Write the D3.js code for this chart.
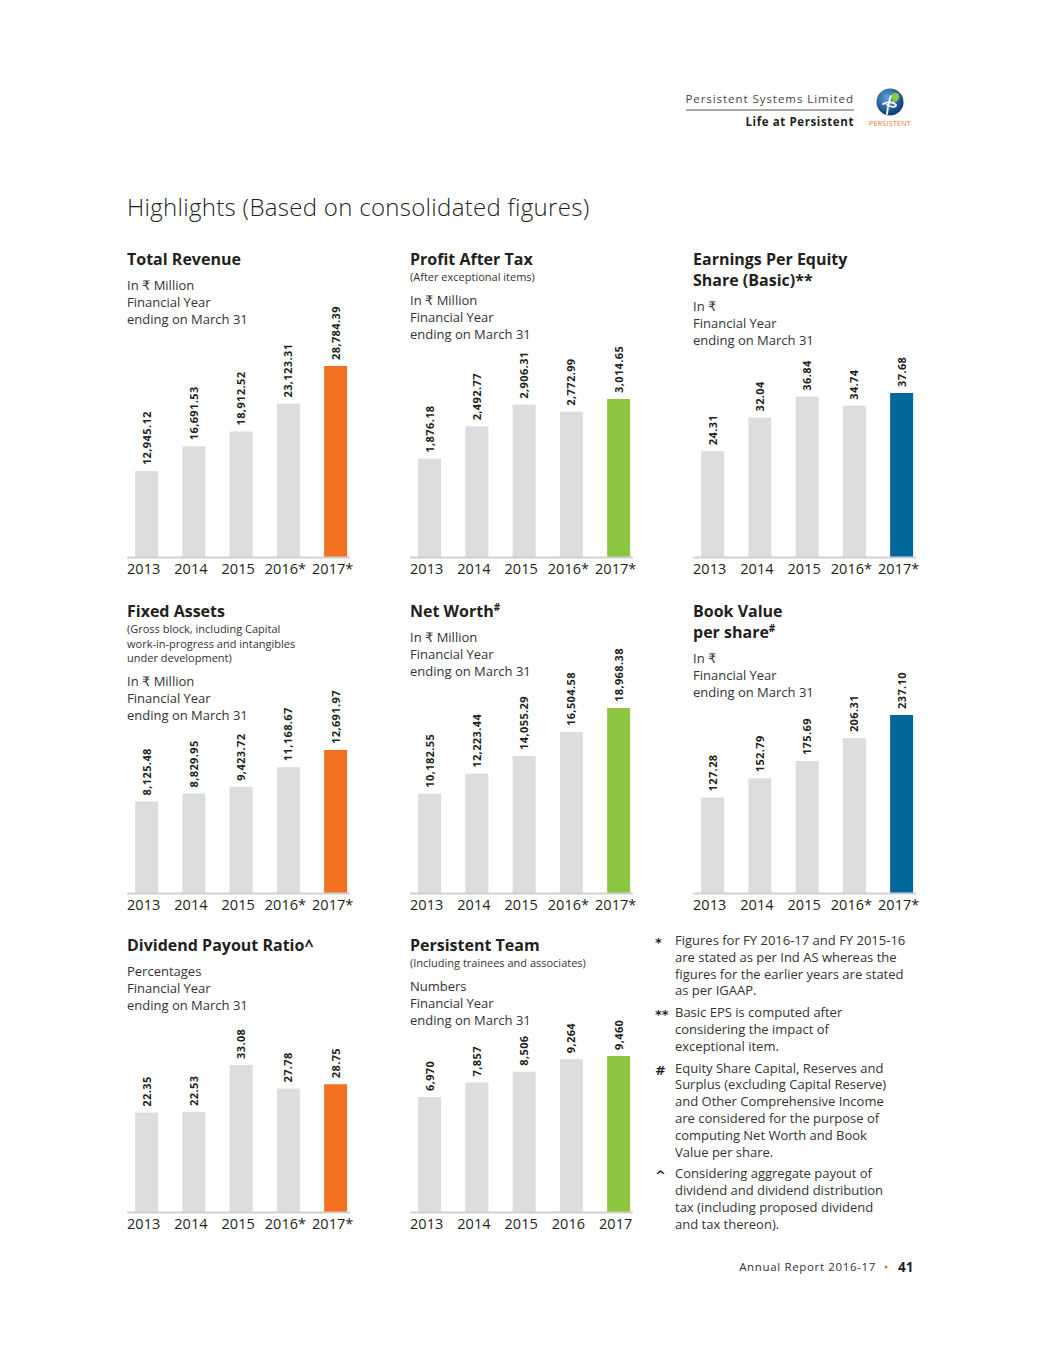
<!DOCTYPE html>
<html>
<head>
<meta charset="utf-8">
<script src="https://cdn.jsdelivr.net/npm/d3@7"></script>
<style>
  body { margin: 0; background: #fff; }
  svg text { font-family: "Open Sans", "DejaVu Sans", sans-serif; fill: #231f20; }
</style>
</head>
<body>
<div id="page"></div>
<script>
// data
var years = ["2013", "2014", "2015", "2016*", "2017*"];
var teamYears = ["2013", "2014", "2015", "2016", "2017"];

var totalRevenue = [12945.12, 16691.53, 18912.52, 23123.31, 28784.39];
var profitAfterTax = [1876.18, 2492.77, 2906.31, 2772.99, 3014.65];
var epsBasic = [24.31, 32.04, 36.84, 34.74, 37.68];
var fixedAssets = [8125.48, 8829.95, 9423.72, 11168.67, 12691.97];
var netWorth = [10182.55, 12223.44, 14055.29, 16504.58, 18968.38];
var bookValue = [127.28, 152.79, 175.69, 206.31, 237.10];
var dividendPayout = [22.35, 22.53, 33.08, 27.78, 28.75];
var teamSize = [6970, 7857, 8506, 9264, 9460];

var footnotes = [
  { sym: "*", lines: ["Figures for FY 2016-17 and FY 2015-16", "are stated as per Ind AS whereas the", "figures for the earlier years are stated", "as per IGAAP."] },
  { sym: "**", lines: ["Basic EPS is computed after", "considering the impact of", "exceptional item."] },
  { sym: "#", lines: ["Equity Share Capital, Reserves and", "Surplus (excluding Capital Reserve)", "and Other Comprehensive Income", "are considered for the purpose of", "computing Net Worth and Book", "Value per share."] },
  { sym: "^", lines: ["Considering aggregate payout of", "dividend and dividend distribution", "tax (including proposed dividend", "and tax thereon)."] }
];

var orange = "#f37021", green = "#8dc63f", blue = "#00689a", grey = "#dcdddf";

// h = pixel height of the tallest bar in each panel
var panels = [
  { title: ["Total Revenue"], note: [], units: ["In \u20b9 Million", "Financial Year", "ending on March 31"],
    cats: years, values: totalRevenue, color: orange, x: 127, top: 260, base: 557, h: 191, fmt: ",.2f" },
  { title: ["Profit After Tax"], note: ["(After exceptional items)"], units: ["In \u20b9 Million", "Financial Year", "ending on March 31"],
    cats: years, values: profitAfterTax, color: green, x: 410, top: 260, base: 557, h: 158, fmt: ",.2f" },
  { title: ["Earnings Per Equity", "Share (Basic)**"], note: [], units: ["In \u20b9", "Financial Year", "ending on March 31"],
    cats: years, values: epsBasic, color: blue, x: 693, top: 260, base: 557, h: 164, fmt: ",.2f" },
  { title: ["Fixed Assets"], note: ["(Gross block, including Capital", "work-in-progress and intangibles", "under development)"], units: ["In \u20b9 Million", "Financial Year", "ending on March 31"],
    cats: years, values: fixedAssets, color: orange, x: 127, top: 612, base: 893, h: 143, fmt: ",.2f" },
  { title: ["Net Worth#"], note: [], units: ["In \u20b9 Million", "Financial Year", "ending on March 31"],
    cats: years, values: netWorth, color: green, x: 410, top: 612, base: 893, h: 185, fmt: ",.2f" },
  { title: ["Book Value", "per share#"], note: [], units: ["In \u20b9", "Financial Year", "ending on March 31"],
    cats: years, values: bookValue, color: blue, x: 693, top: 612, base: 893, h: 178, fmt: ",.2f" },
  { title: ["Dividend Payout Ratio^"], note: [], units: ["Percentages", "Financial Year", "ending on March 31"],
    cats: years, values: dividendPayout, color: orange, x: 127, top: 946, base: 1212, h: 147, fmt: ",.2f" },
  { title: ["Persistent Team"], note: ["(Including trainees and associates)"], units: ["Numbers", "Financial Year", "ending on March 31"],
    cats: teamYears, values: teamSize, color: green, x: 410, top: 946, base: 1212, h: 156, fmt: "," }
];

var W = 1039, H = 1353;
var svg = d3.select("#page").append("svg")
    .attr("width", W)
    .attr("height", H);

svg.append("rect").attr("width", W).attr("height", H).attr("fill", "#fff");

// header
svg.append("text").attr("x", 854).attr("y", 103).attr("text-anchor", "end")
  .style("font-size", "11.5px").style("letter-spacing", "0.95px").style("fill", "#444")
  .text("Persistent Systems Limited");
svg.append("line").attr("x1", 686).attr("x2", 854).attr("y1", 110).attr("y2", 110)
  .attr("stroke", "#555").attr("stroke-width", 1);
svg.append("text").attr("x", 854).attr("y", 126).attr("text-anchor", "end")
  .style("font-size", "11.5px").style("font-weight", "bold").style("letter-spacing", "0.6px")
  .text("Life at Persistent");

// logo
var defs = svg.append("defs");
var grad = defs.append("radialGradient").attr("id", "logoGrad")
  .attr("cx", "40%").attr("cy", "35%").attr("r", "65%");
grad.append("stop").attr("offset", "0%").attr("stop-color", "#5ea4dc");
grad.append("stop").attr("offset", "100%").attr("stop-color", "#0b3b74");
var logo = svg.append("g").attr("transform", "translate(890,102)");
logo.append("circle").attr("r", 13.5).attr("fill", "url(#logoGrad)");
logo.append("path").attr("d", "M2,-8 C8,-12 12,-6 7,-1 C4,1 1,0 2,-8 Z").attr("fill", "#8dc63f");
logo.append("path")
  .attr("d", "M-3,12 C-2,4 -1,-2 1,-6 M-7,2 C-2,-1 4,0 6,3 C6,6 1,5 -3,3")
  .attr("fill", "none").attr("stroke", "#fff").attr("stroke-width", 1.8).attr("stroke-linecap", "round");
svg.append("text").attr("x", 890).attr("y", 125.5).attr("text-anchor", "middle")
  .style("font-size", "7px").style("letter-spacing", "0.3px").style("fill", orange)
  .text("PERSISTENT");

// page title
svg.append("text").attr("x", 127).attr("y", 216)
  .style("font-size", "24px").style("font-weight", 300).style("letter-spacing", "0.3px")
  .style("fill", "#231f20")
  .text("Highlights (Based on consolidated figures)");

// one small bar chart per panel
panels.forEach(function(p) {
  var g = svg.append("g");
  var y0 = p.top + 5;

  p.title.forEach(function(t, i) {
    var txt = g.append("text").attr("x", p.x).attr("y", y0 + i * 21)
      .style("font-size", "16px").style("font-weight", "bold");
    var m = t.match(/^(.*?)(#?)$/);
    txt.append("tspan").text(m[1]);
    if (m[2]) txt.append("tspan").attr("dy", -6).style("font-size", "10px").text(m[2]);
  });
  var yy = y0 + (p.title.length - 1) * 21;

  if (p.note.length) {
    yy += 16;
    p.note.forEach(function(t, i) {
      g.append("text").attr("x", p.x).attr("y", yy + i * 14.5)
        .style("font-size", "11px").style("fill", "#333").text(t);
    });
    yy += (p.note.length - 1) * 14.5 + 8;
  } else {
    yy += 9;
  }
  p.units.forEach(function(t, i) {
    g.append("text").attr("x", p.x).attr("y", yy + 16 + i * 17)
      .style("font-size", "13px").style("fill", "#333").text(t);
  });

  var x = d3.scaleBand()
    .domain(p.cats)
    .range([p.x - 4, p.x - 4 + 47.25 * p.cats.length])
    .paddingInner(0.513)
    .paddingOuter(0.2565);

  var maxV = d3.max(p.values);
  var y = d3.scaleLinear()
    .domain([0, maxV])
    .range([p.base, p.base - p.h]);

  g.selectAll("rect.bar")
    .data(p.values)
    .enter()
    .append("rect")
      .attr("class", "bar")
      .attr("x", function(d, i) { return x(p.cats[i]); })
      .attr("y", function(d) { return y(d); })
      .attr("width", x.bandwidth())
      .attr("height", function(d) { return p.base - y(d); })
      .attr("fill", function(d, i) { return i === p.values.length - 1 ? p.color : grey; });

  var fmt = d3.format(p.fmt);
  g.selectAll("text.val")
    .data(p.values)
    .enter()
    .append("text")
      .attr("class", "val")
      .attr("transform", function(d, i) {
        return "translate(" + (x(p.cats[i]) + x.bandwidth() / 2 + 4) + "," + (y(d) - 6) + ") rotate(-90)";
      })
      .style("font-size", "11px")
      .style("font-weight", "bold")
      .style("letter-spacing", "0.4px")
      .text(function(d) { return fmt(d); });

  // baseline axis with year labels
  var axis = g.append("g")
    .attr("transform", "translate(0," + p.base + ")")
    .call(d3.axisBottom(x).tickSize(0).tickPadding(7));
  axis.select(".domain")
    .attr("d", "M" + p.x + ",0.5H" + (p.x + 223))
    .attr("stroke", "#cfd0d2").attr("stroke-width", 2);
  axis.selectAll(".tick text")
    .attr("dx", -3)
    .style("font-size", "14.5px")
    .style("font-family", "'Open Sans', sans-serif")
    .style("fill", "#231f20");
});

// footnotes
var fy = 945;
footnotes.forEach(function(f) {
  svg.append("text").attr("x", 655).attr("y", fy + 2)
    .style("font-size", "13px").style("font-weight", "bold")
    .style("font-family", "'DejaVu Sans', sans-serif").text(f.sym);
  f.lines.forEach(function(t, i) {
    svg.append("text").attr("x", 675).attr("y", fy + i * 16.8)
      .style("font-size", "13px").style("fill", "#333").text(t);
  });
  fy += f.lines.length * 16.8 + 5;
});

// footer
svg.append("text").attr("x", 876).attr("y", 1271).attr("text-anchor", "end")
  .style("font-size", "11.5px").style("letter-spacing", "0.65px").style("fill", "#333")
  .text("Annual Report 2016-17");
svg.append("circle").attr("cx", 886).attr("cy", 1267).attr("r", 1.5).attr("fill", orange);
svg.append("text").attr("x", 898).attr("y", 1272)
  .style("font-size", "13.5px").style("font-weight", "bold").text("41");
</script>
</body>
</html>
